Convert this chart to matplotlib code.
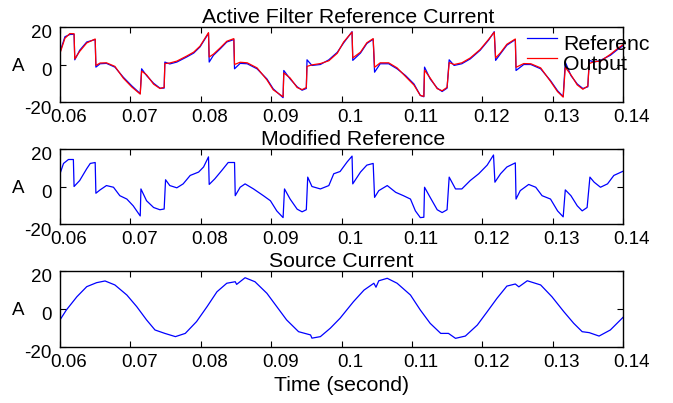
import matplotlib
matplotlib.use("Agg")
import matplotlib.pyplot as plt
import matplotlib.transforms as mtrans

plt.rcParams['font.family'] = ['Liberation Sans', 'DejaVu Sans']

# ---------------- data ----------------
t_top = [0.0600, 0.0607, 0.0614, 0.0620, 0.0621, 0.0628, 0.0638, 0.0650, 0.0651, 0.0657,
         0.0666, 0.0678, 0.0690, 0.0702, 0.0714, 0.0716, 0.0723, 0.0733, 0.0742, 0.0748,
         0.0749, 0.0756, 0.0766, 0.0780, 0.0790, 0.0799, 0.0811, 0.0812, 0.0818, 0.0828,
         0.0837, 0.0847, 0.0848, 0.0856, 0.0866, 0.0880, 0.0894, 0.0903, 0.0917, 0.0918,
         0.0927, 0.0937, 0.0944, 0.0950, 0.0951, 0.0958, 0.0970, 0.0982, 0.0994, 0.1003,
         0.1015, 0.1016, 0.1027, 0.1036, 0.1045, 0.1047, 0.1055, 0.1067, 0.1079, 0.1091,
         0.1103, 0.1112, 0.1117, 0.1118, 0.1126, 0.1136, 0.1143, 0.1150, 0.1153, 0.1160,
         0.1171, 0.1183, 0.1197, 0.1209, 0.1217, 0.1219, 0.1226, 0.1235, 0.1247, 0.1248,
         0.1259, 0.1269, 0.1283, 0.1297, 0.1307, 0.1315, 0.1318, 0.1326, 0.1335, 0.1343,
         0.1350, 0.1352, 0.1359, 0.1368, 0.1382, 0.1392, 0.1401]
reference = [6.6, 14.8, 16.0, 16.1, 2.5, 7.6, 12.0, 13.3, -1.4, 0.4,
             0.6, -1.4, -6.8, -11.4, -15.5, -2.3, -5.9, -10.0, -12.6, -12.6,
             1.3, 0.3, 1.3, 4.0, 6.1, 9.4, 16.6, 1.3, 4.9, 8.5,
             12.0, 13.3, -2.3, 0.6, 0.4, -2.3, -7.7, -13.0, -17.7, -3.2,
             -7.7, -11.9, -13.7, -12.8, 2.5, -0.5, 0.0, 2.5, 6.5, 11.5,
             17.5, 2.2, 6.1, 11.2, 13.5, -4.1, 0.4, 0.4, -2.3, -5.9,
             -10.4, -16.5, -17.2, -1.4, -7.7, -12.6, -14.4, -12.6, 2.5, -0.5,
             0.4, 3.0, 7.6, 13.0, 17.5, 2.2, 5.8, 10.3, 13.3, -3.2,
             0.0, 0.0, -2.3, -8.6, -14.0, -17.1, 1.3, -5.9, -10.4, -12.8,
             -11.9, 2.2, 1.3, 2.2, 4.9, 7.9, 10.3]
output = [6.0, 14.0, 16.5, 16.4, 3.0, 7.0, 11.5, 13.6, -0.5, 0.8,
          0.9, -1.0, -7.3, -12.0, -15.8, -3.5, -5.5, -10.5, -12.8, -12.2,
          0.5, 0.8, 1.8, 4.5, 6.6, 9.8, 17.0, 4.0, 5.5, 9.0,
          12.4, 13.8, 0.0, 1.2, 0.9, -1.8, -8.2, -13.5, -17.2, -4.5,
          -7.2, -12.3, -13.4, -12.3, -1.0, -0.2, 0.5, 2.0, 6.0, 12.0,
          17.3, 3.5, 6.6, 11.6, 13.8, -1.5, 0.9, 0.9, -1.8, -6.4,
          -11.0, -16.5, -17.0, -3.0, -7.2, -12.9, -14.0, -12.2, 1.0, 0.0,
          0.9, 3.5, 8.0, 13.4, 17.2, 3.5, 6.3, 10.8, 13.6, -1.5,
          0.5, 0.4, -1.8, -9.0, -14.5, -17.4, -1.5, -5.5, -10.9, -13.2,
          -11.5, 0.5, 1.5, 1.8, 5.4, 8.4, 10.8]

t_mid = [0.0600, 0.0605, 0.0612, 0.0619, 0.0620, 0.0628, 0.0638, 0.0643, 0.0650, 0.0651,
         0.0657, 0.0666, 0.0676, 0.0685, 0.0695, 0.0704, 0.0714, 0.0715, 0.0723, 0.0733,
         0.0742, 0.0748, 0.0750, 0.0756, 0.0766, 0.0775, 0.0785, 0.0797, 0.0804, 0.0811,
         0.0812, 0.0820, 0.0830, 0.0839, 0.0848, 0.0849, 0.0856, 0.0863, 0.0875, 0.0889,
         0.0899, 0.0908, 0.0917, 0.0919, 0.0927, 0.0937, 0.0944, 0.0950, 0.0952, 0.0958,
         0.0970, 0.0982, 0.0989, 0.0998, 0.1008, 0.1015, 0.1016, 0.1027, 0.1036, 0.1045,
         0.1047, 0.1053, 0.1065, 0.1077, 0.1088, 0.1098, 0.1105, 0.1112, 0.1117, 0.1118,
         0.1126, 0.1136, 0.1143, 0.1150, 0.1153, 0.1162, 0.1171, 0.1183, 0.1195, 0.1207,
         0.1216, 0.1218, 0.1226, 0.1235, 0.1247, 0.1248, 0.1254, 0.1266, 0.1276, 0.1285,
         0.1297, 0.1307, 0.1315, 0.1318, 0.1326, 0.1335, 0.1342, 0.1349, 0.1353, 0.1359,
         0.1368, 0.1378, 0.1387, 0.1401]
modified = [6.8, 12.3, 14.4, 14.4, 0.0, 3.2, 9.5, 12.3, 12.8, -3.6,
            -1.8, 0.5, -0.4, -4.9, -6.7, -10.3, -15.7, -1.3, -7.6, -11.2,
            -12.4, -12.0, 3.6, 0.5, -0.7, 1.4, 5.9, 7.7, 10.4, 15.8,
            1.1, 4.1, 8.6, 12.8, 12.8, -4.9, -0.4, 1.4, -1.3, -4.9,
            -7.6, -13.0, -16.6, -1.3, -6.7, -12.1, -13.5, -12.4, 5.0, 0.0,
            -1.3, 0.5, 6.8, 8.0, 13.1, 16.2, 1.4, 7.7, 11.4, 12.3,
            -5.8, -2.2, 0.5, -3.1, -4.9, -6.7, -13.0, -16.6, -16.4, -0.4,
            -5.8, -12.4, -13.9, -12.4, 5.0, -1.3, -1.3, 3.2, 6.8, 11.4,
            16.8, 2.3, 6.8, 10.4, 12.6, -6.7, -2.2, 1.1, -0.4, -4.9,
            -6.7, -13.0, -16.2, -1.8, -4.9, -10.3, -13.0, -11.2, 5.0, 2.3,
            -0.4, 1.4, 5.9, 8.3]

t_src = [0.0600, 0.0609, 0.0624, 0.0638, 0.0652, 0.0664, 0.0678, 0.0695, 0.0709, 0.0723,
         0.0735, 0.0749, 0.0764, 0.0778, 0.0794, 0.0809, 0.0823, 0.0837, 0.0849, 0.0851,
         0.0863, 0.0877, 0.0894, 0.0908, 0.0922, 0.0939, 0.0956, 0.0958, 0.0970, 0.0984,
         0.0998, 0.1017, 0.1032, 0.1046, 0.1049, 0.1053, 0.1065, 0.1079, 0.1098, 0.1112,
         0.1126, 0.1141, 0.1152, 0.1162, 0.1176, 0.1193, 0.1207, 0.1221, 0.1235, 0.1247,
         0.1252, 0.1264, 0.1283, 0.1299, 0.1316, 0.1330, 0.1342, 0.1352, 0.1366, 0.1382,
         0.1401]
source = [-5.9, -0.7, 6.3, 11.6, 13.7, 14.6, 12.5, 7.2, 1.1, -5.9,
          -11.2, -13.0, -14.7, -13.0, -6.8, 1.1, 8.9, 13.4, 14.2, 12.8,
          16.3, 14.2, 8.1, 1.1, -5.9, -12.1, -13.8, -15.5, -14.7, -10.3,
          -5.0, 3.7, 9.8, 13.4, 11.3, 14.7, 16.0, 13.4, 7.2, -0.7,
          -7.7, -13.0, -13.0, -15.6, -14.4, -8.6, -1.6, 5.5, 11.9, 13.0,
          11.5, 14.7, 12.5, 6.3, -1.6, -7.7, -12.1, -12.6, -14.4, -11.2,
          -4.2]

titles = ["Active Filter Reference Current", "Modified Reference", "Source Current"]
x_ticks = [0.06, 0.07, 0.08, 0.09, 0.10, 0.11, 0.12, 0.13, 0.14]
x_ticklabels = ["0.06", "0.07", "0.08", "0.09", "0.1", "0.11", "0.12", "0.13", "0.14"]
y_ticks = [-20, 0, 20]
y_ticklabels = ["-20", "0", "20"]

# ---------------- figure ----------------
FS = 13.5      # tick labels, "A"
FS_T = 15.3    # titles, xlabel, legend
fig = plt.figure(figsize=(6.73, 4.03), dpi=100)
W, H = 673.0, 403.0
boxes = [(60, 27, 623, 102), (60, 149, 623, 224), (60, 270.7, 623, 346.7)]
title_shift = [7, 12, 0]   # px
axes = []
for (x0, y0, x1, y1) in boxes:
    ax = fig.add_axes([x0 / W, 1 - y1 / H, (x1 - x0) / W, (y1 - y0) / H])
    axes.append(ax)

axes[0].plot(t_top, reference, color='#0000ff', lw=0.9, label='Referenc')
axes[0].plot(t_top, output, color='#ff0000', lw=0.9, label='Output')
axes[1].plot(t_mid, modified, color='#0000ff', lw=0.9)
axes[2].plot(t_src, source, color='#0000ff', lw=0.9)

dx = mtrans.ScaledTranslation(9 / 100, 0, fig.dpi_scale_trans)
dy = mtrans.ScaledTranslation(0, -5 / 100, fig.dpi_scale_trans)
for ax, title, sh in zip(axes, titles, title_shift):
    ax.set_xlim(0.06, 0.14)
    ax.set_ylim(-20, 20)
    ax.set_xticks(x_ticks)
    ax.set_xticklabels(x_ticklabels)
    ax.set_yticks(y_ticks)
    ax.set_yticklabels(y_ticklabels)
    ax.tick_params(direction='in', length=4, width=0.8, top=True, right=True,
                   labelsize=FS, colors='black')
    ax.tick_params(axis='x', pad=5)
    ax.tick_params(axis='y', pad=6)
    for lab in ax.get_xticklabels():
        lab.set_transform(lab.get_transform() + dx)
    for lab in ax.get_yticklabels():
        lab.set_transform(lab.get_transform() + dy)
    for sp in ax.spines.values():
        sp.set_linewidth(1.0)
    t = ax.set_title(title, fontsize=FS_T, pad=3)
    t.set_x(0.5 + sh / 563.0)
    ax.set_ylabel('A', fontsize=FS, rotation=0, va='center', ha='center')
    ax.yaxis.set_label_coords(-0.074, 0.47)

axes[2].set_xlabel('Time (second)', fontsize=FS_T, labelpad=4)

leg = axes[0].legend(loc='upper left', bbox_to_anchor=(527 / W, 1 - 30 / H),
                     bbox_transform=fig.transFigure, frameon=False, fontsize=FS_T,
                     handlelength=1.4, handletextpad=0.3, labelspacing=0.05,
                     borderpad=0, borderaxespad=0)
for txt in leg.get_texts():
    txt.set_transform(txt.get_transform() + dy)

fig.savefig('out.png', dpi=100)
